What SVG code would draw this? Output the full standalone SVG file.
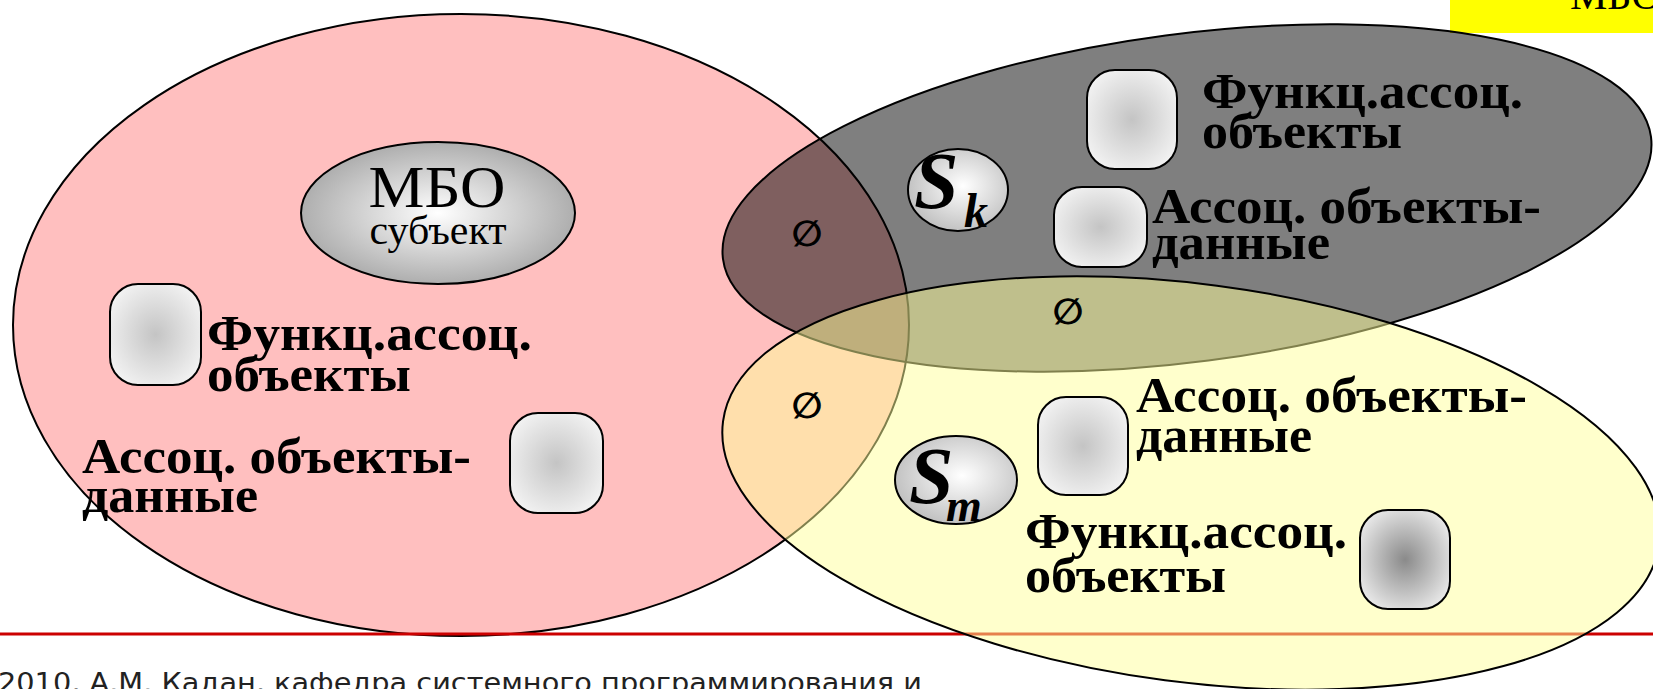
<svg xmlns="http://www.w3.org/2000/svg" width="1653" height="689" viewBox="0 0 1653 689">
  <defs>
    <radialGradient id="boxGrad" cx="50%" cy="50%" r="60%">
      <stop offset="0" stop-color="#c4c4c4"/>
      <stop offset="1" stop-color="#f4f4f4"/>
    </radialGradient>
    <radialGradient id="boxGradDark" cx="50%" cy="50%" r="60%">
      <stop offset="0" stop-color="#8a8a8a"/>
      <stop offset="1" stop-color="#ececec"/>
    </radialGradient>
    <radialGradient id="ovalGrad" cx="50%" cy="50%" r="55%">
      <stop offset="0" stop-color="#ffffff"/>
      <stop offset="1" stop-color="#a6a6a6"/>
    </radialGradient>
    <radialGradient id="subjGrad" cx="55%" cy="45%" r="60%">
      <stop offset="0" stop-color="#ffffff"/>
      <stop offset="1" stop-color="#bdbdbd"/>
    </radialGradient>
  </defs>
  <style>
    .set { stroke: #000; stroke-width: 2; }
    .box { stroke: #000; stroke-width: 2; fill: url(#boxGrad); }
    .box.dark { fill: url(#boxGradDark); }
    .subj { stroke: #000; stroke-width: 2; fill: url(#subjGrad); }
    .lbl { font-family: "Liberation Serif", "Times New Roman", serif; font-weight: bold; font-size: 50px; fill: #000; }
    .sym { font-family: "Liberation Serif", "Times New Roman", serif; font-weight: bold; font-style: italic; fill: #000; }
    .empty { font-family: "DejaVu Sans", sans-serif; font-weight: bold; font-style: italic; font-size: 36px; fill: #000; text-anchor: middle; }
    .foot { font-family: "DejaVu Sans", Verdana, sans-serif; font-size: 26px; fill: #222; }
  </style>

  <rect width="1653" height="689" fill="#ffffff"/>

  <!-- slide title tab, cut by the top edge -->
  <g id="title">
    <rect x="1450" y="0" width="203" height="33" fill="#ffff00"/>
    <text x="1570" y="9" font-family="Liberation Serif, serif" font-size="42">МБО</text>
  </g>

  <!-- left set: the subject's own objects -->
  <g id="set-mbo">
    <ellipse class="set" cx="461" cy="325" rx="448" ry="311" fill="#ffbfbf"/>
  </g>

  <line id="footer-rule" x1="0" y1="634" x2="1653" y2="634" stroke="#cc0000" stroke-width="3"/>

  <g id="mbo-subject">
    <ellipse cx="438" cy="213" rx="137" ry="71" stroke="#000" stroke-width="2" fill="url(#ovalGrad)"/>
    <text x="437" y="207" font-family="Liberation Serif, serif" font-size="60" text-anchor="middle" textLength="137" lengthAdjust="spacingAndGlyphs">МБО</text>
    <text x="438" y="244" font-family="Liberation Serif, serif" font-size="40" text-anchor="middle" textLength="137" lengthAdjust="spacingAndGlyphs">субъект</text>
  </g>

  <g id="mbo-func">
    <rect class="box" x="110" y="284" width="91" height="101" rx="28"/>
    <text class="lbl" x="207" y="350" textLength="325" lengthAdjust="spacingAndGlyphs">Функц.ассоц.</text>
    <text class="lbl" x="207" y="391" textLength="204" lengthAdjust="spacingAndGlyphs">объекты</text>
  </g>

  <g id="mbo-data">
    <rect class="box" x="510" y="413" width="93" height="100" rx="28"/>
    <text class="lbl" x="82" y="473" textLength="389" lengthAdjust="spacingAndGlyphs">Ассоц. объекты-</text>
    <text class="lbl" x="82" y="512" textLength="176" lengthAdjust="spacingAndGlyphs">данные</text>
  </g>

  <!-- upper right set: subject S_k -->
  <g id="set-sk">
    <ellipse class="set" cx="1187" cy="198" rx="468" ry="164" transform="rotate(-7.5 1187 198)" fill="#000" fill-opacity="0.5"/>
  </g>

  <g id="sk-subject">
    <ellipse class="subj" cx="958" cy="190" rx="50" ry="41"/>
    <text class="sym" x="914" y="208" font-size="80">S</text>
    <text class="sym" x="964" y="227" font-size="48">k</text>
  </g>

  <g id="sk-func">
    <rect class="box" x="1087" y="70" width="90" height="99" rx="28"/>
    <text class="lbl" x="1202" y="108" textLength="321" lengthAdjust="spacingAndGlyphs">Функц.ассоц.</text>
    <text class="lbl" x="1202" y="148" textLength="200" lengthAdjust="spacingAndGlyphs">объекты</text>
  </g>

  <g id="sk-data">
    <rect class="box" x="1054" y="187" width="93" height="80" rx="28"/>
    <text class="lbl" x="1152" y="223" textLength="389" lengthAdjust="spacingAndGlyphs">Ассоц. объекты-</text>
    <text class="lbl" x="1152" y="259" textLength="178" lengthAdjust="spacingAndGlyphs">данные</text>
  </g>

  <!-- lower right set: subject S_m -->
  <g id="set-sm">
    <ellipse class="set" cx="1191" cy="483" rx="472" ry="199" transform="rotate(7.5 1191 483)" fill="#ffff99" fill-opacity="0.5"/>
  </g>

  <g id="sm-subject">
    <ellipse class="subj" cx="956" cy="480" rx="61" ry="44"/>
    <text class="sym" x="909" y="503" font-size="80">S</text>
    <text class="sym" x="946" y="521" font-size="46">m</text>
  </g>

  <g id="sm-data">
    <rect class="box" x="1038" y="397" width="90" height="98" rx="28"/>
    <text class="lbl" x="1136" y="412" textLength="391" lengthAdjust="spacingAndGlyphs">Ассоц. объекты-</text>
    <text class="lbl" x="1136" y="452" textLength="176" lengthAdjust="spacingAndGlyphs">данные</text>
  </g>

  <g id="sm-func">
    <rect class="box dark" x="1360" y="510" width="90" height="99" rx="28"/>
    <text class="lbl" x="1025" y="548" textLength="322" lengthAdjust="spacingAndGlyphs">Функц.ассоц.</text>
    <text class="lbl" x="1025" y="592" textLength="201" lengthAdjust="spacingAndGlyphs">объекты</text>
  </g>

  <!-- empty pairwise intersections -->
  <g id="intersections">
    <text class="empty" x="807" y="246">∅</text>
    <text class="empty" x="1068" y="324">∅</text>
    <text class="empty" x="807" y="418">∅</text>
  </g>

  <g id="connectors"/>

  <g id="footer">
    <text class="foot" x="-2" y="692" textLength="924" lengthAdjust="spacingAndGlyphs">2010, А.М. Кадан, кафедра системного программирования и</text>
  </g>
</svg>
